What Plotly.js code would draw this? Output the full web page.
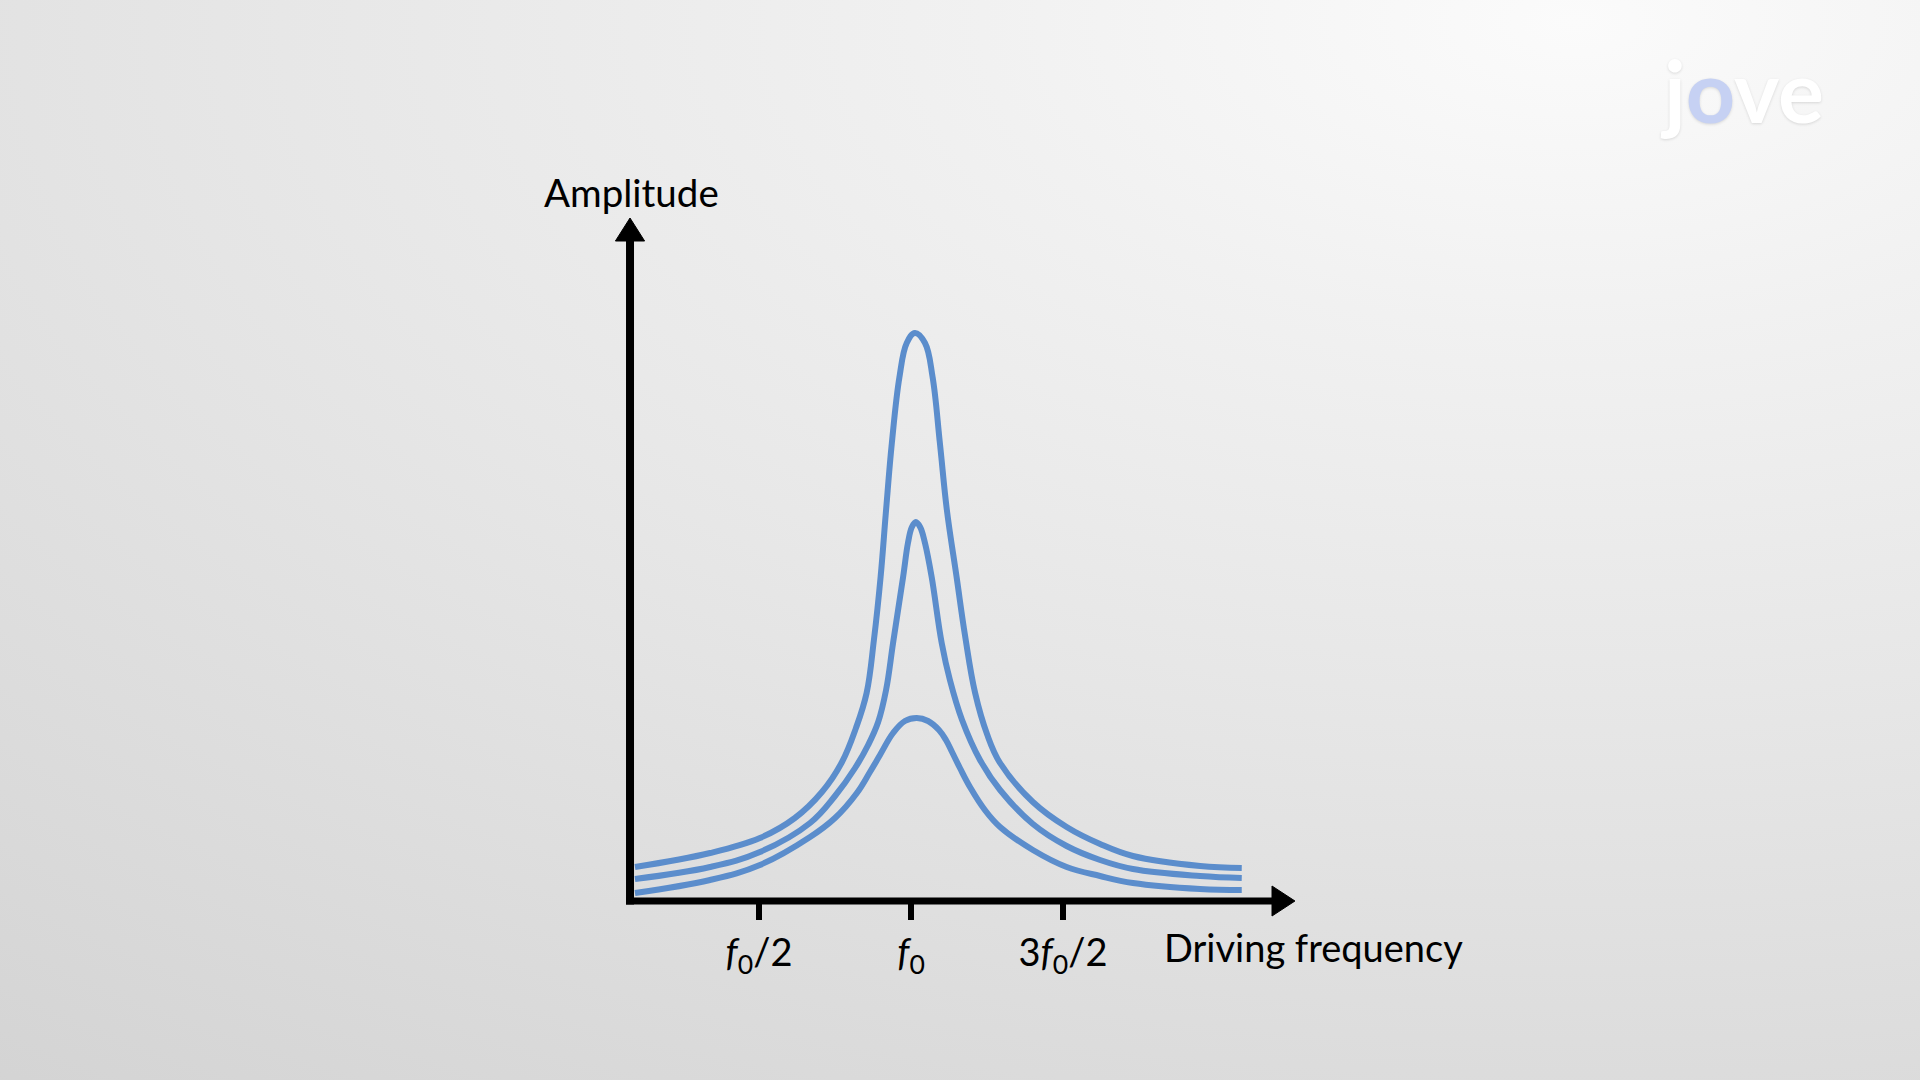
<!DOCTYPE html>
<html>
<head>
<meta charset="utf-8">
<script src="https://cdn.plot.ly/plotly-3.0.1.min.js"></script>
<style>
  html, body { margin: 0; padding: 0; width: 1920px; height: 1080px; overflow: hidden; }
  body {
    background: radial-gradient(ellipse 140% 130% at 82% 2%, #fbfbfb 0%, #f1f1f1 22%, #e7e7e7 48%, #dcdcdc 75%, #d2d2d2 100%);
  }
  #chart { width: 1920px; height: 1080px; }
</style>
</head>
<body>
<div id="chart"></div>
<script>
// Driving frequency in units of f0, amplitude in arbitrary units
const freqTop = [0.092, 0.339, 0.503, 0.618, 0.707, 0.773, 0.819, 0.854, 0.878, 0.900, 0.918, 0.937, 0.962, 0.986, 1.013,
                 1.046, 1.071, 1.095, 1.118, 1.150, 1.178, 1.211, 1.250, 1.293, 1.401, 1.512, 1.622, 1.730, 1.951, 2.088];
const ampTop  = [0.34, 0.48, 0.63, 0.83, 1.09, 1.39, 1.73, 2.08, 2.61, 3.24, 3.91, 4.58, 5.24, 5.58, 5.68,
                 5.58, 5.24, 4.58, 3.91, 3.24, 2.65, 2.08, 1.67, 1.38, 0.99, 0.74, 0.57, 0.45, 0.35, 0.33];

const freqMid = [0.092, 0.339, 0.503, 0.668, 0.750, 0.816, 0.859, 0.892, 0.918, 0.941, 0.974, 0.990, 1.003, 1.016,
                 1.030, 1.046, 1.068, 1.101, 1.128, 1.168, 1.227, 1.293, 1.401, 1.512, 1.622, 1.730, 1.951, 2.088];
const ampMid  = [0.22, 0.34, 0.49, 0.78, 1.05, 1.33, 1.56, 1.79, 2.11, 2.58, 3.24, 3.58, 3.74, 3.79,
                 3.74, 3.58, 3.24, 2.58, 2.21, 1.81, 1.41, 1.11, 0.77, 0.55, 0.41, 0.32, 0.25, 0.23];

const freqLow = [0.092, 0.339, 0.503, 0.668, 0.750, 0.822, 0.865, 0.898, 0.941, 0.980, 1.019,
                 1.056, 1.092, 1.115, 1.135, 1.161, 1.194, 1.243, 1.293, 1.401, 1.512, 1.622, 1.730, 1.951, 2.088];
const ampLow  = [0.08, 0.21, 0.36, 0.64, 0.83, 1.08, 1.29, 1.46, 1.68, 1.80, 1.83,
                 1.80, 1.71, 1.61, 1.49, 1.33, 1.14, 0.91, 0.74, 0.51, 0.34, 0.25, 0.18, 0.12, 0.11];

const tickValues = [0.5, 1, 1.5];
const tickLabels = ['<i>f</i><sub>0</sub>/2', '<i>f</i><sub>0</sub>', '3<i>f</i><sub>0</sub>/2'];

const FONT = 'Lato, "Open Sans", "DejaVu Sans", sans-serif';
const CURVE = '#5b8dcc';

const X_RANGE = [0, 2.5], Y_RANGE = [0, 7];
// convert axis units to paper fractions (so decorations are not clipped)
const px = v => (v - X_RANGE[0]) / (X_RANGE[1] - X_RANGE[0]);
const py = v => (v - Y_RANGE[0]) / (Y_RANGE[1] - Y_RANGE[0]);

const lineStyle = { color: CURVE, width: 6, shape: 'spline', smoothing: 1.1 };
const traces = [
  { x: freqTop, y: ampTop, mode: 'lines', line: lineStyle, hoverinfo: 'skip', showlegend: false, cliponaxis: false },
  { x: freqMid, y: ampMid, mode: 'lines', line: lineStyle, hoverinfo: 'skip', showlegend: false, cliponaxis: false },
  { x: freqLow, y: ampLow, mode: 'lines', line: lineStyle, hoverinfo: 'skip', showlegend: false, cliponaxis: false }
];

// axis geometry (decoration), in axis units
const yAxisX = 0.0757, xAxisStart = 0.0625, xArrowBase = 2.1875, xArrowTip = 2.263;
const yAxisBottom = -0.035, yArrowBase = 6.60, yArrowTip = 6.83;
const yArrowHalf = 0.048, xArrowHalf = 0.15;

const shapes = [
  { type: 'line', xref: 'paper', yref: 'paper', x0: px(yAxisX), x1: px(yAxisX), y0: py(yAxisBottom), y1: py(yArrowBase + 0.02),
    line: { color: '#000', width: 8 } },
  { type: 'line', xref: 'paper', yref: 'paper', x0: px(xAxisStart), x1: px(xArrowBase + 0.01), y0: py(0), y1: py(0),
    line: { color: '#000', width: 7 } },
  { type: 'path', xref: 'paper', yref: 'paper',
    path: `M ${px(yAxisX - yArrowHalf)},${py(yArrowBase)} L ${px(yAxisX + yArrowHalf)},${py(yArrowBase)} L ${px(yAxisX)},${py(yArrowTip)} Z`,
    fillcolor: '#000', line: { color: '#000', width: 1 } },
  { type: 'path', xref: 'paper', yref: 'paper',
    path: `M ${px(xArrowBase)},${py(xArrowHalf)} L ${px(xArrowBase)},${py(-xArrowHalf)} L ${px(xArrowTip)},${py(0)} Z`,
    fillcolor: '#000', line: { color: '#000', width: 1 } }
];

const annotations = [
  { text: 'Amplitude', xref: 'paper', yref: 'paper', x: px(0.080), y: py(7.09), xanchor: 'center', yanchor: 'middle',
    showarrow: false, font: { family: FONT, size: 38.5, color: '#000' } },
  { text: 'Driving frequency', xref: 'paper', yref: 'paper', x: px(1.8257), y: py(-0.46), xanchor: 'left', yanchor: 'middle',
    showarrow: false, font: { family: FONT, size: 38, color: '#000' } },
  { text: '<b>j<span style="color:#c6d1f3">o</span>ve</b>', xref: 'paper', yref: 'paper', x: px(3.735), y: py(8.11),
    xanchor: 'center', yanchor: 'middle', showarrow: false,
    font: { family: FONT, size: 86, color: '#ffffff', shadow: '0px 1px 3px rgba(0,0,0,0.13)' } }
];

const layout = {
  width: 1920, height: 1080,
  margin: { l: 607, r: 553, t: 201, b: 179, pad: 0 },
  paper_bgcolor: 'rgba(0,0,0,0)',
  plot_bgcolor: 'rgba(0,0,0,0)',
  showlegend: false,
  xaxis: {
    range: X_RANGE, showgrid: false, zeroline: false, showline: false,
    tickmode: 'array', tickvals: tickValues, ticktext: tickLabels,
    ticks: 'outside', ticklen: 18, tickwidth: 6, tickcolor: '#000',
    tickfont: { family: FONT, size: 38, color: '#000' },
    fixedrange: true
  },
  yaxis: {
    range: Y_RANGE, showgrid: false, zeroline: false, showline: false,
    showticklabels: false, ticks: '', fixedrange: true
  },
  shapes: shapes,
  annotations: annotations
};

Plotly.newPlot('chart', traces, layout, { displayModeBar: false, staticPlot: true });
</script>
</body>
</html>
